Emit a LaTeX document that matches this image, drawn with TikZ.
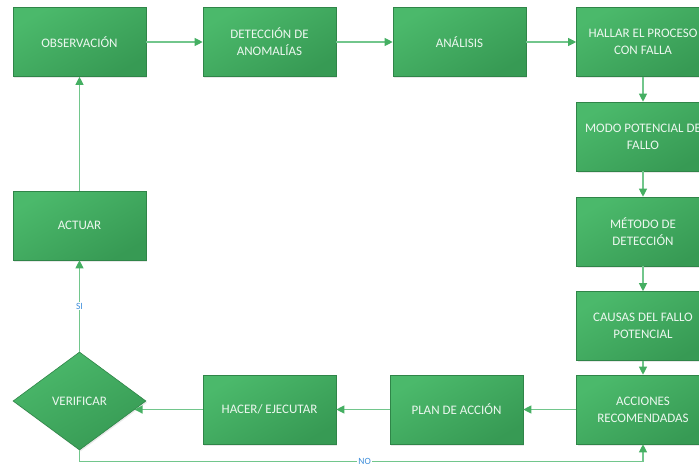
\documentclass[tikz,border=0pt]{standalone}
\usepackage{fontspec}
\setmainfont{Carlito}
\usetikzlibrary{arrows.meta,shapes.geometric,shadows}
\definecolor{boxlight}{HTML}{4BB96B}
\definecolor{boxdark}{HTML}{379A54}
\definecolor{boxedge}{HTML}{2F8548}
\definecolor{boxtext}{HTML}{ECF7EF}
\definecolor{flow}{HTML}{72C68C}
\definecolor{flowtip}{HTML}{45AF62}
\definecolor{lbltext}{HTML}{3E8EDB}
\begin{document}
\begin{tikzpicture}[x=1pt,y=-1pt,
  stepbox/.style={rectangle, draw=boxedge, line width=0.6pt,
    top color=boxlight, bottom color=boxdark, shading angle=30,
    minimum width=133pt, minimum height=69pt, inner sep=0pt,
    text=boxtext, font=\fontsize{13}{17}\selectfont, align=center,
    drop shadow={shadow xshift=1pt, shadow yshift=-1.5pt, opacity=0.18}},
  decision/.style={stepbox, diamond, minimum width=133pt, minimum height=98pt},
  arr/.style={draw=flow, line width=1.1pt,
    -{Triangle[width=8pt,length=8pt,fill=flowtip,color=flowtip]}},
  lbl/.style={fill=white, inner sep=1pt, text=lbltext, font=\fontsize{9.5}{10}\selectfont},
]
\useasboundingbox (0,0) rectangle (699,466);

% top row
\node[stepbox] (obs) at (79.5,42)  {OBSERVACIÓN};
\node[stepbox] (det) at (269.5,42) {DETECCIÓN DE\\ANOMALÍAS};
\node[stepbox] (ana) at (459.5,42) {ANÁLISIS};
\node[stepbox] (hal) at (643,42)   {HALLAR EL PROCESO\\CON FALLA};

% right column
\node[stepbox] (modo) at (643,136.5) {MODO POTENCIAL DE\\FALLO};
\node[stepbox] (met)  at (643,231.5) {MÉTODO DE\\DETECCIÓN};
\node[stepbox] (cau)  at (643,326)   {CAUSAS DEL FALLO\\POTENCIAL};
\node[stepbox] (acc)  at (643,409.5) {ACCIONES\\RECOMENDADAS};

% bottom row and left column
\node[stepbox] (plan) at (456.5,409.5) {PLAN DE ACCIÓN};
\node[stepbox] (hac)  at (269.5,409.5) {HACER/ EJECUTAR};
\node[decision] (ver) at (79.5,401) {VERIFICAR};
\node[stepbox] (act)  at (79.5,225.5) {ACTUAR};

% entry point of the action arrow on the diamond's lower right edge
\coordinate (vin) at (134.5,409.5);

\draw[arr] (obs) -- (det);
\draw[arr] (det) -- (ana);
\draw[arr] (ana) -- (hal);
\draw[arr] (hal) -- (modo);
\draw[arr] (modo) -- (met);
\draw[arr] (met) -- (cau);
\draw[arr] (cau) -- (acc);
\draw[arr] (acc) -- (plan);
\draw[arr] (plan) -- (hac);
\draw[arr] (hac.west) -- (vin);
\draw[arr] (ver.north) -- node[lbl]{SI} (act.south);
\draw[arr] (act.north) -- (obs.south);
\draw[arr] (ver.south) -- ++(0,11) coordinate (nb)
  -| node[lbl, pos=0.253]{NO} (acc.south);
\end{tikzpicture}
\end{document}
